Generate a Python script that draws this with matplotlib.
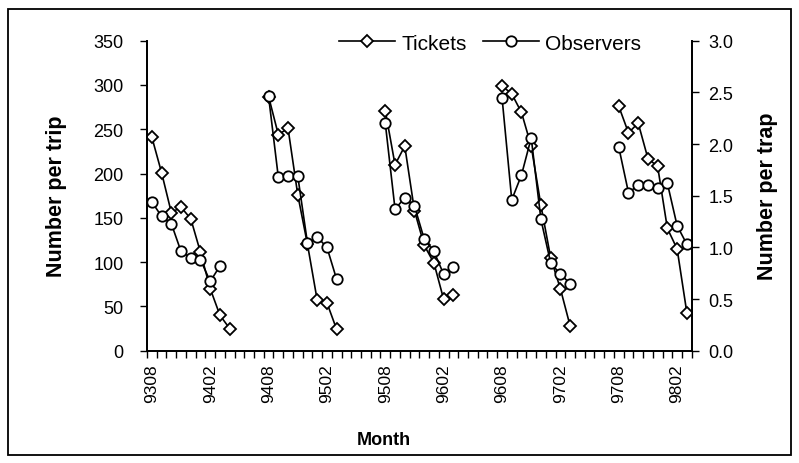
import numpy as np
import matplotlib.pyplot as plt
from matplotlib.patches import Rectangle

plt.rcParams['font.family'] = ['Liberation Sans', 'DejaVu Sans']

# months on the category axis (9308 .. 9803)
first_year, first_month = 93, 8
n_months = 56
tick_labels = ['9308', '9402', '9408', '9502', '9508', '9602', '9608', '9702', '9708', '9802']

# each season starts in August
season_starts = ['9308', '9408', '9508', '9608', '9708']
tickets_by_season = [
    [241, 201, 156, 162, 149, 111, 70, 40, 25],
    [287, 244, 251, 176, 120, 57, 54, 24],
    [271, 210, 231, 158, 119, 99, 58, 63],
    [299, 290, 269, 231, 164, 105, 70, 28],
    [276, 246, 257, 217, 208, 138, 115, 43],
]
observers_by_season = [
    [1.44, 1.30, 1.23, 0.96, 0.90, 0.88, 0.67, 0.82],
    [2.46, 1.68, 1.69, 1.69, 1.04, 1.10, 1.00, 0.69],
    [2.20, 1.37, 1.48, 1.40, 1.08, 0.96, 0.74, 0.81],
    [2.45, 1.46, 1.70, 2.06, 1.27, 0.85, 0.74, 0.65],
    [1.97, 1.53, 1.60, 1.60, 1.57, 1.62, 1.21, 1.03],
]

months = []
y, m = first_year, first_month
for k in range(n_months):
    months.append('%02d%02d' % (y, m))
    m += 1
    if m > 12:
        m = 1
        y += 1

tickets = np.full(n_months, np.nan)
observers = np.full(n_months, np.nan)
for s, t, o in zip(season_starts, tickets_by_season, observers_by_season):
    i0 = months.index(s)
    tickets[i0:i0 + len(t)] = t
    observers[i0:i0 + len(o)] = o

x = np.arange(n_months)

fig = plt.figure(figsize=(7.99, 4.64), dpi=100)
ax = fig.add_axes([147 / 799, 1 - 351.7 / 464, (691.7 - 147) / 799, (351.7 - 41.7) / 464])
ax2 = ax.twinx()

l1, = ax.plot(x, tickets, '-', color='black', lw=1.2, marker='D', ms=6,
              mfc='white', mec='black', mew=1.3, label='Tickets')
l2, = ax2.plot(x, observers, '-', color='black', lw=1.2, marker='o', ms=7.5,
               mfc='white', mec='black', mew=1.3, label='Observers')

ax.set_xlim(-0.5, n_months - 0.5)
ax.set_ylim(0, 350)
ax.set_yticks(np.arange(0, 351, 50))
ax2.set_ylim(0, 3.0)
ax2.set_yticks(np.arange(0, 3.01, 0.5))
ax2.set_yticklabels(['%.1f' % v for v in np.arange(0, 3.01, 0.5)])

ax.set_xticks([months.index(t) for t in tick_labels])
ax.set_xticklabels(tick_labels, rotation=90)
ax.set_xticks(np.arange(-0.5, n_months, 1), minor=True)
ax.tick_params(axis='x', which='major', length=0, pad=9, labelsize=12.5)
ax.tick_params(axis='x', which='minor', length=5, width=1, direction='out')
ax.tick_params(axis='y', length=5, width=1, labelsize=13, pad=12)
ax2.tick_params(axis='y', length=5, width=1, labelsize=13, pad=7)

for a in (ax, ax2):
    a.spines['top'].set_visible(False)
    for sp in ('left', 'right', 'bottom'):
        a.spines[sp].set_linewidth(1.3)

ax.set_ylabel('Number per trip', fontsize=15.5, fontweight='bold')
ax2.set_ylabel('Number per trap', fontsize=15.5, fontweight='bold')
ax.set_xlabel('Month', fontsize=13, fontweight='bold')
ax.yaxis.set_label_coords(-0.147, 0.5)
ax2.yaxis.set_label_coords(1.12, 0.5)
ax.xaxis.set_label_coords(0.435, -0.26)

fig.legend([l1, l2], ['Tickets', 'Observers'], loc='center',
           bbox_to_anchor=(490 / 799, 1 - 44 / 464), ncol=2, frameon=False,
           fontsize=15, handlelength=2.7, columnspacing=0.75, handletextpad=0.3)

# outer chart border
fig.patches.append(Rectangle((8 / 799, 8 / 464), 783 / 799, 446 / 464,
                             transform=fig.transFigure, fill=False,
                             edgecolor='black', linewidth=1.3))

fig.savefig('out.png', dpi=100)
